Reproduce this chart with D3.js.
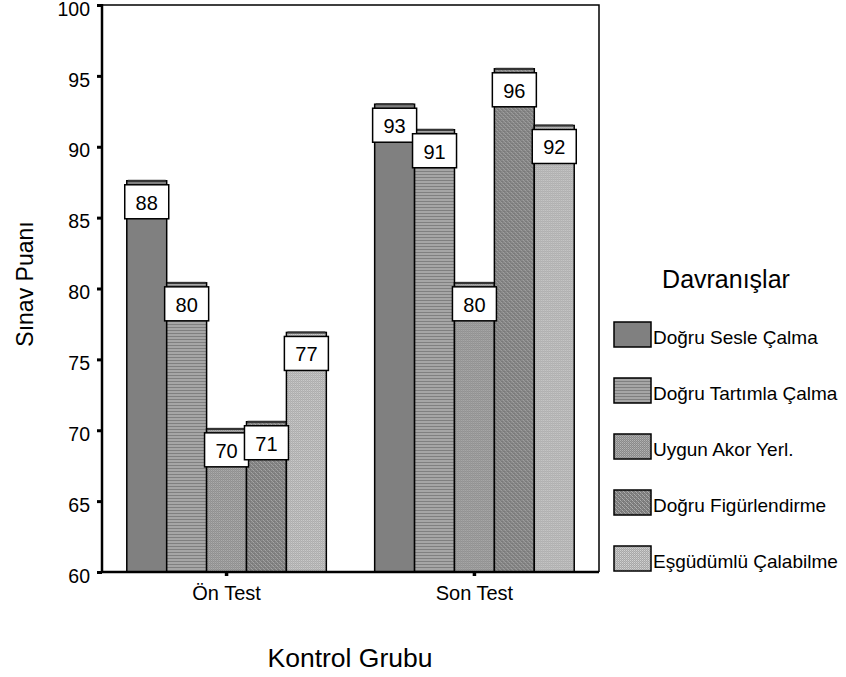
<!DOCTYPE html>
<html>
<head>
<meta charset="utf-8">
<script src="https://cdn.jsdelivr.net/npm/d3@7"></script>
<style>
  body { margin: 0; background: #fff; }
  svg { display: block; font-family: "Liberation Sans", Arial, sans-serif; }
</style>
</head>
<body>
<svg id="chart" width="846" height="677"></svg>
<script>
// ---- data ----
const groups = ["Ön Test", "Son Test"];
const series = ["Doğru Sesle Çalma", "Doğru Tartımla Çalma", "Uygun Akor Yerl.", "Doğru Figürlendirme", "Eşgüdümlü Çalabilme"];
const onTestValues  = [87.6, 80.4, 70.1, 70.6, 76.9];
const sonTestValues = [93.0, 91.2, 80.4, 95.5, 91.5];
const onTestLabels  = ["88", "80", "70", "71", "77"];
const sonTestLabels = ["93", "91", "80", "96", "92"];
const yTicks = [60, 65, 70, 75, 80, 85, 90, 95, 100];

const rows = [
  { group: groups[0], values: onTestValues, labels: onTestLabels },
  { group: groups[1], values: sonTestValues, labels: sonTestLabels }
];

const FONT = "Liberation Sans, Arial, sans-serif";
const svg = d3.select("#chart");
const defs = svg.append("defs");

// pixel texture patterns
function pixPattern(id, size, bg, pts) {
  const p = defs.append("pattern").attr("id", id).attr("patternUnits", "userSpaceOnUse")
    .attr("width", size[0]).attr("height", size[1]);
  p.append("rect").attr("width", size[0]).attr("height", size[1]).attr("fill", bg);
  pts.forEach(([x, y, c]) => p.append("rect").attr("x", x).attr("y", y).attr("width", 1).attr("height", 1).attr("fill", c));
}
// 0: solid grey
pixPattern("p0", [2, 2], "#808080", []);
// 1: horizontal lines
(function () {
  const p = defs.append("pattern").attr("id", "p1").attr("patternUnits", "userSpaceOnUse").attr("width", 4).attr("height", 3);
  p.append("rect").attr("width", 4).attr("height", 3).attr("fill", "#a6a6a6");
  p.append("rect").attr("y", 0).attr("width", 4).attr("height", 1).attr("fill", "#808080");
})();
// 2: fine checker
pixPattern("p2", [2, 2], "#8a8a8a", [[0, 0, "#b4b4b4"], [1, 1, "#a0a0a0"]]);
// 3: diagonal texture (darker)
pixPattern("p3", [4, 4], "#7a7a7a", [[0, 0, "#b0b0b0"], [1, 1, "#a6a6a6"], [2, 2, "#b0b0b0"], [3, 3, "#9a9a9a"], [2, 0, "#8e8e8e"], [0, 2, "#8e8e8e"]]);
// 4: light dotted
pixPattern("p4", [2, 2], "#a8a8a8", [[0, 0, "#d2d2d2"], [1, 1, "#bcbcbc"]]);
const fills = ["url(#p0)", "url(#p1)", "url(#p2)", "url(#p3)", "url(#p4)"];

// ---- scales ----
const plotLeft = 102, plotRight = 599, plotTop = 5, plotBottom = 572;
const x0 = d3.scaleBand().domain(groups).range([plotLeft, plotRight]).paddingInner(0.195).paddingOuter(0.1);
const x1 = d3.scaleBand().domain(series).range([0, x0.bandwidth()]);
const y = d3.scaleLinear().domain([60, 100]).range([plotBottom, plotTop]);

// frame (top & right)
svg.append("path")
  .attr("d", `M${plotLeft},${plotTop}H${plotRight}V${plotBottom}`)
  .attr("fill", "none").attr("stroke", "#000").attr("stroke-width", 1.5);

// bars
const g = svg.append("g");
rows.forEach(r => {
  const gg = g.append("g").attr("transform", `translate(${x0(r.group)},0)`);
  gg.selectAll("rect.bar").data(r.values).join("rect")
    .attr("class", "bar")
    .attr("x", (d, i) => x1(series[i]))
    .attr("y", d => y(d))
    .attr("width", x1.bandwidth())
    .attr("height", d => y(60) - y(d))
    .attr("fill", (d, i) => fills[i])
    .attr("stroke", "#000").attr("stroke-width", 1.5);
  // top edge strip
  gg.selectAll("rect.top").data(r.values).join("rect")
    .attr("class", "top")
    .attr("x", (d, i) => x1(series[i]) + 1)
    .attr("y", d => y(d) - 1)
    .attr("width", x1.bandwidth() - 2)
    .attr("height", 2)
    .attr("fill", "#333");
  // label boxes
  const lab = gg.selectAll("g.lab").data(r.values).join("g").attr("class", "lab")
    .attr("transform", (d, i) => `translate(${x1(series[i]) + x1.bandwidth() / 2},${y(d) + 4})`);
  lab.append("rect")
    .attr("x", -22).attr("y", 0).attr("width", 44).attr("height", 34)
    .attr("fill", "#fff").attr("stroke", "#000").attr("stroke-width", 1.5);
  lab.append("text")
    .attr("x", 0).attr("y", 25)
    .attr("text-anchor", "middle")
    .attr("font-size", 20)
    .attr("fill", "#000")
    .text((d, i) => r.labels[i]);
});

// y axis
const yAxis = svg.append("g").attr("transform", `translate(${plotLeft},0)`)
  .call(d3.axisLeft(y).tickValues(yTicks).tickSize(5).tickPadding(7).tickFormat(d3.format("d")));
yAxis.select(".domain").attr("stroke-width", 2.5).attr("d", `M0,${plotTop - 1}V${plotBottom + 1}`);
yAxis.selectAll(".tick line").attr("stroke-width", 3);
yAxis.selectAll(".tick text").attr("font-size", 19.5).attr("font-family", FONT).attr("dy", "0.52em").attr("fill", "#000");

// x axis
const xAxis = svg.append("g").attr("transform", `translate(0,${plotBottom})`)
  .call(d3.axisBottom(x0).tickSize(4).tickPadding(10));
xAxis.select(".domain").attr("stroke-width", 2.5).attr("d", `M${plotLeft},0H${plotRight}`);
xAxis.selectAll(".tick line").attr("stroke-width", 3.5);
xAxis.selectAll(".tick text").attr("font-size", 20).attr("font-family", FONT).attr("fill", "#000");

// axis titles
svg.append("text").attr("x", 350).attr("y", 667).attr("text-anchor", "middle")
  .attr("font-size", 26.5).text("Kontrol Grubu");
svg.append("text").attr("transform", "translate(33,284) rotate(-90)").attr("text-anchor", "middle")
  .attr("font-size", 23).text("Sınav Puanı");

// legend
svg.append("text").attr("x", 726).attr("y", 288).attr("text-anchor", "middle")
  .attr("font-size", 25).text("Davranışlar");
const leg = svg.append("g").selectAll("g").data(series).join("g")
  .attr("transform", (d, i) => `translate(614,${322 + i * 56})`);
leg.append("rect").attr("width", 37).attr("height", 25)
  .attr("fill", (d, i) => fills[i]).attr("stroke", "#000").attr("stroke-width", 1.5);
leg.append("text").attr("x", 39).attr("y", 21.5).attr("font-size", 19).text(d => d);
</script>
</body>
</html>
